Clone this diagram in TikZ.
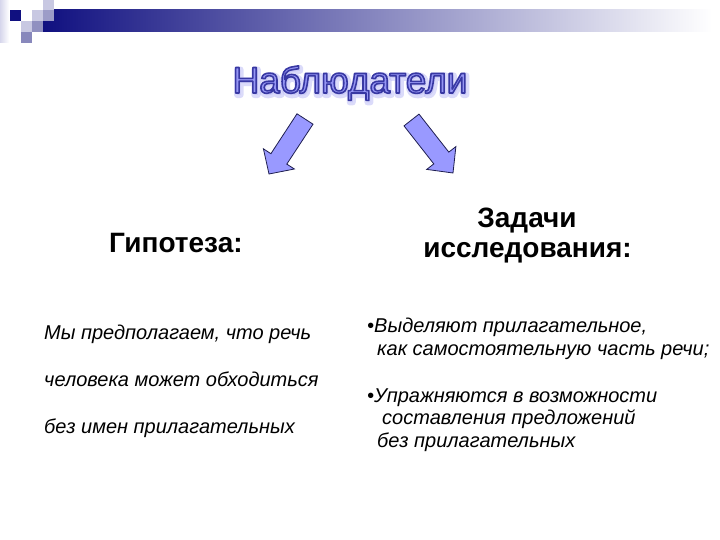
\documentclass[tikz,border=0pt]{standalone}
\usepackage{fontspec}
\setmainfont{Liberation Sans}
\definecolor{navy}{RGB}{16,16,128}
\definecolor{midlav}{RGB}{122,120,184}
\definecolor{sqlight}{RGB}{200,200,226}
\definecolor{sqmed}{RGB}{156,156,200}
\definecolor{sqmedb}{RGB}{144,144,192}
\definecolor{sqmedc}{RGB}{136,136,188}
\definecolor{palelav}{RGB}{214,214,236}
\definecolor{arrowfill}{RGB}{153,153,255}
\definecolor{arrowline}{RGB}{30,30,80}
\definecolor{titlefill}{RGB}{150,150,244}
\definecolor{glowc}{RGB}{190,190,245}
% outlined text via PDF text render mode (fill + stroke)
\newcommand{\strokedtext}[3]{\special{pdf:literal direct #1 RG #2 w 1 j 2 Tr}#3\special{pdf:literal direct 0 Tr}}
\tikzset{
  titletext/.style={anchor=base, inner sep=0pt, font=\fontsize{37}{42}\selectfont},
  headtext/.style={inner sep=0pt, font=\fontsize{28}{32}\selectfont\bfseries},
  bodytext/.style={anchor=base west, inner sep=0pt, font=\fontsize{20}{24}\selectfont\itshape},
  blockarrow/.style={fill=arrowfill, draw=arrowline, line width=0.8pt, line join=miter}
}
\begin{document}
\begin{tikzpicture}[x=1pt,y=-1pt]
\path[use as bounding box] (0,0) rectangle (720,540);
% header bar
\shade[left color=navy, middle color=midlav, right color=white] (43,10) rectangle (712,32);
\shade[left color=palelav, right color=white] (0,0) rectangle (9,43);
\fill[sqlight] (43,0) rectangle (54,10);
\fill[navy] (10,10) rectangle (21,21);
\fill[sqlight] (32,10) rectangle (43,21);
\fill[sqmed] (43,10) rectangle (54,21);
\fill[sqlight] (21,21) rectangle (32,32);
\fill[sqmedb] (32,21) rectangle (43,32);
\fill[sqmedc] (21,32) rectangle (32,43);
% title: soft glow behind, then outlined text
\node[titletext, text=glowc, opacity=0.55] (glow) at (351.5,95)
  {\strokedtext{0.745 0.745 0.96}{6}{Наблюдатели}};
\node[titletext, text=titlefill] (title) at (350,93)
  {\strokedtext{0.22 0.22 0.64}{1.6}{Наблюдатели}};
% block arrows
\draw[blockarrow] (297,113.8) -- (313,124.2) -- (286.8,164.1) -- (294.4,169.0) -- (269,174) -- (263.4,148.8) -- (270.9,153.7) -- cycle;
\draw[blockarrow] (419,114.1) -- (404,125.9) -- (433.8,163.9) -- (426.7,169.4) -- (453,173) -- (455.9,146.6) -- (448.8,152.1) -- cycle;
% headings
\node[headtext, anchor=base west] (hyp) at (109,252) {Гипотеза:};
\node[headtext, anchor=base] (task1) at (527,228) {Задачи};
\node[headtext, anchor=base] (task2) at (527.5,258) {исследования:};
% left text
\node[bodytext] (l1) at (44,339) {Мы предполагаем, что речь};
\node[bodytext] (l2) at (44,386) {человека может обходиться};
\node[bodytext] (l3) at (44,433) {без имен прилагательных};
% right text
\node[bodytext] (r1) at (367,332) {•Выделяют прилагательное,};
\node[bodytext] (r2) at (377,355) {как самостоятельную часть речи;};
\node[bodytext] (r3) at (367,402) {•Упражняются в возможности};
\node[bodytext] (r4) at (382,424) {составления предложений};
\node[bodytext] (r5) at (377,447) {без прилагательных};
\end{tikzpicture}
\end{document}
